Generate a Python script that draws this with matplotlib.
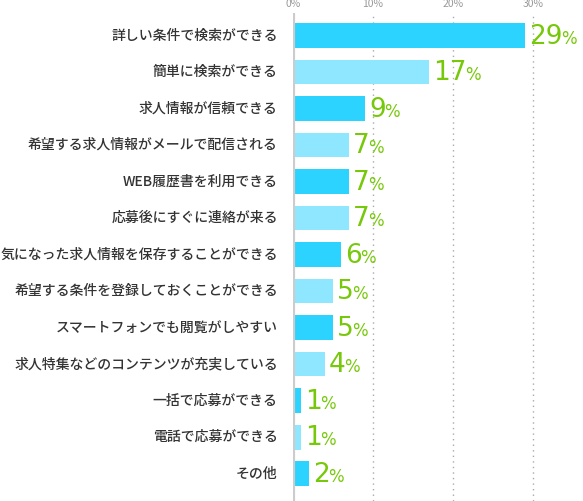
import matplotlib
matplotlib.use('Agg')
import matplotlib.pyplot as plt

plt.rcParams['font.family'] = ['Noto Sans CJK JP', 'DejaVu Sans']

# data
labels = ['詳しい条件で検索ができる', '簡単に検索ができる', '求人情報が信頼できる',
          '希望する求人情報がメールで配信される', 'WEB履歴書を利用できる',
          '応募後にすぐに連絡が来る', '気になった求人情報を保存することができる',
          '希望する条件を登録しておくことができる', 'スマートフォンでも閲覧がしやすい',
          '求人特集などのコンテンツが充実している', '一括で応募ができる',
          '電話で応募ができる', 'その他']
values = [29, 17, 9, 7, 7, 7, 6, 5, 5, 4, 1, 1, 2]
ticks = [0, 10, 20, 30]

dark = '#2cd3fe'
light = '#8ee7fe'
green = '#77c80a'

W, H = 583, 501
fig = plt.figure(figsize=(W / 100, H / 100), dpi=100)
ax = fig.add_axes([293 / W, 0, (W - 293) / W, (H - 13) / H])

ypos = list(range(len(values)))
colors = [dark if i % 2 == 0 else light for i in ypos]
ax.barh(ypos, values, height=0.68, color=colors, zorder=2)

ax.set_xlim(0, 36.25)
ax.set_ylim(12.75, -0.616)

for t in ticks[1:]:
    ax.axvline(t, color='#aaaaaa', lw=1, ls=(0, (1, 3)), zorder=1)
ax.axvline(0, color='#cccccc', lw=3, zorder=3)

for s in ax.spines.values():
    s.set_visible(False)
ax.set_yticks([])
ax.set_xticks(ticks)
ax.set_xticklabels([f'{t}%' for t in ticks])
ax.xaxis.tick_top()
ax.tick_params(axis='x', length=0, pad=3, labelsize=7.5, labelcolor='#999999')

for y, lab in zip(ypos, labels):
    ax.annotate(lab, xy=(0, y), xytext=(-11, 0), textcoords='offset points',
                ha='right', va='center', fontsize=10, color='#333333',
                fontweight='medium')

fig.canvas.draw()
r = fig.canvas.get_renderer()
for y, v in zip(ypos, values):
    num = ax.annotate(str(v), xy=(v, y), xytext=(3, -6), textcoords='offset points',
                      ha='left', va='baseline', fontsize=19, color=green,
                      family='DejaVu Sans')
    bb = num.get_window_extent(r)
    w_pt = bb.width * 72 / fig.dpi
    ax.annotate('%', xy=(v, y), xytext=(3 + w_pt - 1, -6), textcoords='offset points',
                ha='left', va='baseline', fontsize=12, color=green,
                family='DejaVu Sans')

fig.savefig('out.png', dpi=100)
